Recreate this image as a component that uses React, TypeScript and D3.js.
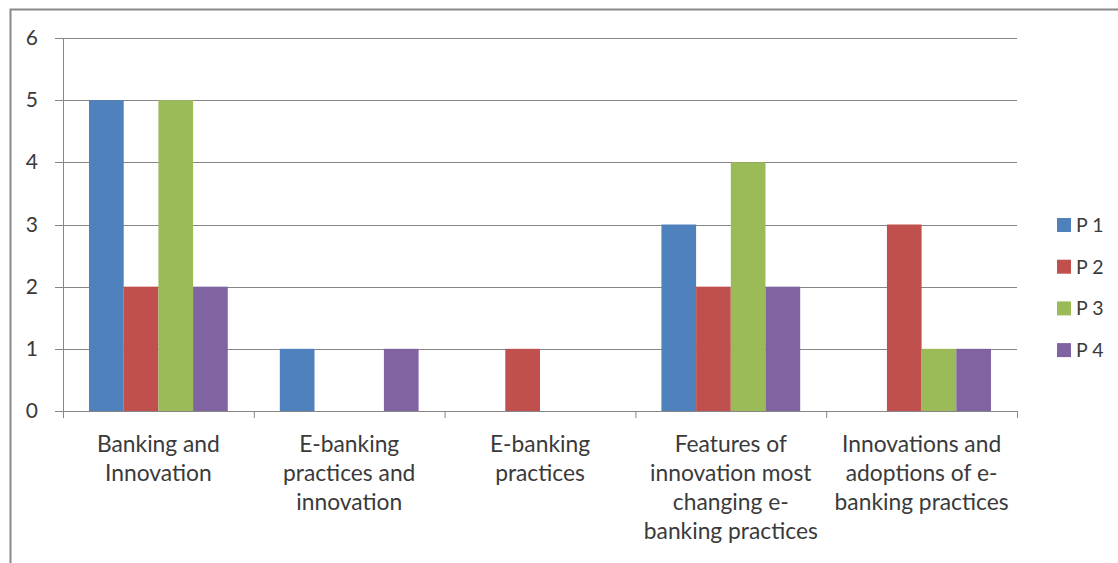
import React from "react";
import * as d3 from "d3";

const categories: string[][] = [
  ["Banking and", "Innovation"],
  ["E-banking", "practices and", "innovation"],
  ["E-banking", "practices"],
  ["Features of", "innovation most", "changing e-", "banking practices"],
  ["Innovations and", "adoptions of e-", "banking practices"],
];
const seriesNames = ["P 1", "P 2", "P 3", "P 4"];
const seriesColors = ["#4F81BD", "#C0504D", "#9BBB59", "#8064A2"];
const p1 = [5, 1, 0, 3, 0];
const p2 = [2, 0, 1, 2, 3];
const p3 = [5, 0, 0, 4, 1];
const p4 = [2, 1, 0, 2, 1];
const yTicks = [0, 1, 2, 3, 4, 5, 6];

const W = 1118;
const H = 563;
const plotL = 63;
const plotR = 1017;
const plotT = 38;
const plotB = 411;

export default function App() {
  const series = [p1, p2, p3, p4];
  const idx = categories.map((_, i) => String(i));
  const x = d3.scaleBand<string>().domain(idx).range([plotL, plotR]);
  const y = d3.scaleLinear().domain([0, 6]).range([plotB, plotT]);
  const bw = x.bandwidth() / 5.5;
  const inner = d3
    .scaleBand<string>()
    .domain(seriesNames)
    .range([bw * 0.75, bw * 4.75]);
  const font = "Lato, 'Open Sans', sans-serif";
  const textColor = "#3a3a3a";
  const axisColor = "#868686";
  return (
    <svg
      width={W}
      height={H}
      style={{ position: "absolute", left: 0, top: 0 }}
    >
      <rect x={0} y={0} width={W} height={H} fill="#fff" />
      <rect
        x={10.5}
        y={9.5}
        width={W + 10}
        height={H + 10}
        fill="none"
        stroke="#8a8a8a"
        strokeWidth={2}
      />
      {yTicks.map((t) => (
        <g key={t}>
          <line
            x1={plotL - 8}
            x2={plotR}
            y1={Math.round(y(t)) + 0.5}
            y2={Math.round(y(t)) + 0.5}
            stroke={axisColor}
            strokeWidth={1}
          />
          <text
            x={38}
            y={y(t) + 7}
            textAnchor="end"
            fontFamily={font}
            fontSize={21}
            fill={textColor}
          >
            {t}
          </text>
        </g>
      ))}
      <line
        x1={plotL + 0.5}
        x2={plotL + 0.5}
        y1={plotT}
        y2={plotB + 7}
        stroke={axisColor}
      />
      {idx.map((k) => (
        <line
          key={"t" + k}
          x1={(x(k) as number) + x.bandwidth() + 0.5}
          x2={(x(k) as number) + x.bandwidth() + 0.5}
          y1={plotB}
          y2={plotB + 7}
          stroke={axisColor}
        />
      ))}
      {series.map((vals, s) =>
        vals.map((v, i) =>
          v > 0 ? (
            <rect
              key={s + "-" + i}
              x={(x(String(i)) as number) + (inner(seriesNames[s]) as number)}
              y={y(v)}
              width={inner.bandwidth()}
              height={y(0) - y(v)}
              fill={seriesColors[s]}
            />
          ) : null
        )
      )}
      {categories.map((lines, i) => (
        <text
          key={"c" + i}
          textAnchor="middle"
          fontFamily={font}
          fontSize={22.8}
          fill={textColor}
        >
          {lines.map((ln, j) => (
            <tspan
              key={j}
              x={(x(String(i)) as number) + x.bandwidth() / 2}
              y={452 + j * 29}
            >
              {ln}
            </tspan>
          ))}
        </text>
      ))}
      {seriesNames.map((n, s) => (
        <g key={n}>
          <rect
            x={1057}
            y={218 + s * 41.7}
            width={14}
            height={14}
            fill={seriesColors[s]}
          />
          <text
            x={1076}
            y={232 + s * 41.7}
            fontFamily={font}
            fontSize={19.5}
            fill={textColor}
          >
            {n}
          </text>
        </g>
      ))}
    </svg>
  );
}
